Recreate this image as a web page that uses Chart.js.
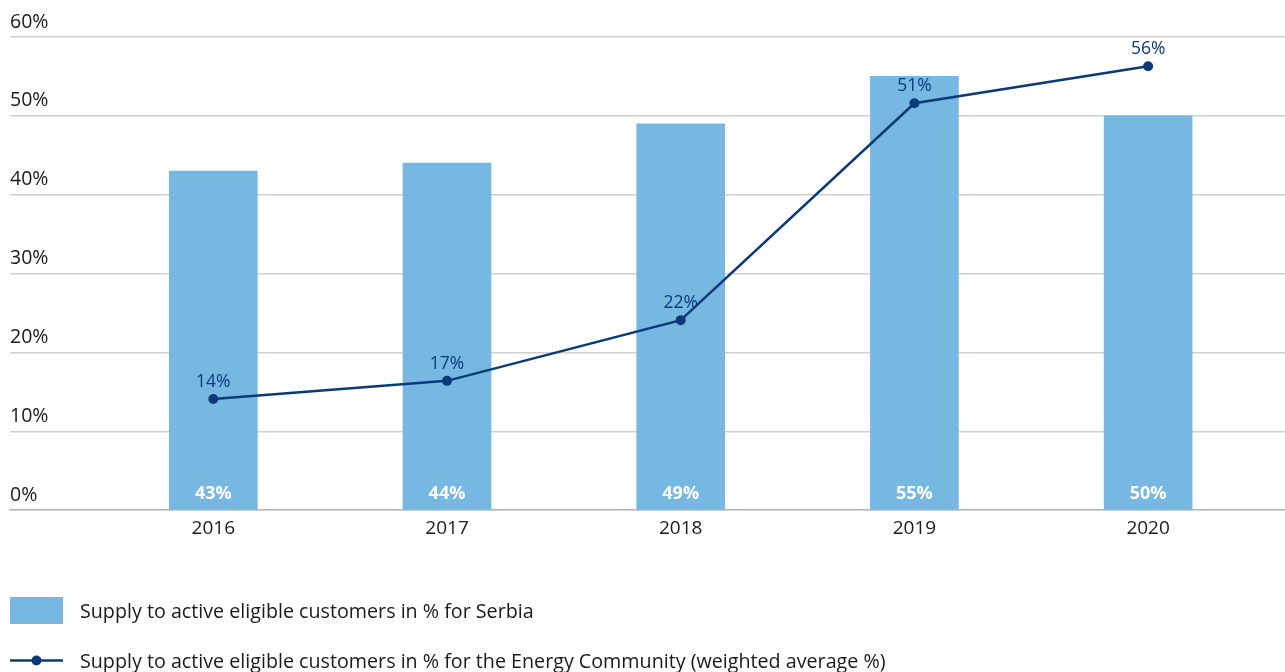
<!DOCTYPE html>
<html><head><meta charset="utf-8">
<script src="https://cdn.jsdelivr.net/npm/chart.js@4"></script>
<style>
html,body{margin:0;padding:0;background:#fff;overflow:hidden;}
#wrap{position:relative;width:1285px;height:672px;overflow:hidden;}
#legend{position:absolute;left:10px;top:596px;font-family:"Open Sans",sans-serif;font-size:19.7px;color:#1a1a1a;}
.li{display:flex;align-items:center;height:28px;margin-bottom:22px;white-space:nowrap;}
.sw{width:53px;height:27px;margin-right:17px;flex:none;}
</style></head>
<body>
<div id="wrap"><canvas id="c" width="1291" height="672"></canvas>
<div id="legend"></div></div>
<script>
const years = ['2016','2017','2018','2019','2020'];
const serbia = [43, 44, 49, 55, 50];
const energyCommunity = [14.1, 16.4, 24.1, 51.6, 56.3];
const energyCommunityLabels = ['14%','17%','22%','51%','56%'];
const serbiaLabels = ['43%','44%','49%','55%','50%'];
const yTicks = [0,10,20,30,40,50,60];
const seriesNames = ['Supply to active eligible customers in % for Serbia','Supply to active eligible customers in % for the Energy Community (weighted average %)'];

const BAR = '#76b8e1', LINE = '#0b3a79';
const FONT = '"Open Sans", sans-serif';

const labelPlugin = {
  id: 'valLabels',
  afterDatasetsDraw(chart) {
    const ctx = chart.ctx;
    ctx.save();
    ctx.textAlign = 'center';
    ctx.textBaseline = 'middle';
    const bars = chart.getDatasetMeta(1).data;
    ctx.fillStyle = '#ffffff';
    ctx.font = 'bold 18px ' + FONT;
    bars.forEach((b, i) => { ctx.fillText(serbiaLabels[i], b.x, b.base - 16); });
    const pts = chart.getDatasetMeta(0).data;
    ctx.fillStyle = LINE;
    ctx.font = '17.5px ' + FONT;
    pts.forEach((p, i) => { ctx.fillText(energyCommunityLabels[i], p.x, p.y - 17); });
    ctx.restore();
  }
};

new Chart(document.getElementById('c'), {
  type: 'bar',
  data: {
    datasets: [
      { type: 'line', label: seriesNames[1], data: energyCommunity.map((v, i) => ({x: i, y: v})),
        borderColor: LINE, backgroundColor: LINE, borderWidth: 2.5, pointRadius: 5, pointHoverRadius: 5,
        pointBackgroundColor: LINE, pointBorderWidth: 0, tension: 0, order: 0 },
      { type: 'bar', label: seriesNames[0], data: serbia.map((v, i) => ({x: i, y: v})),
        backgroundColor: BAR, barThickness: 88, order: 1 }
    ]
  },
  options: {
    responsive: false, animation: false, events: [],
    layout: { padding: { left: 10, right: 0, top: 37, bottom: 125 } },
    plugins: { legend: { display: false }, tooltip: { enabled: false } },
    scales: {
      x: { type: 'linear', min: -0.87, max: 4.59, offset: false,
        grid: { display: false, drawTicks: false },
        border: { display: true, color: '#b9b9b9', width: 1.5 },
        afterBuildTicks: (s) => { s.ticks = years.map((y, i) => ({value: i})); },
        ticks: { color: '#1a1a1a', font: { family: FONT, size: 19 }, padding: 7,
          callback: (v) => years[v] } },
      y: { min: 0, max: 60,
        afterBuildTicks: (s) => { s.ticks = yTicks.map(v => ({value: v})); },
        grid: { color: '#cfcfcf', lineWidth: 1.5, drawTicks: false },
        border: { display: false },
        ticks: { mirror: true, padding: 0, labelOffset: -15, color: '#1a1a1a',
          font: { family: FONT, size: 19.5 }, callback: (v) => v + '%' } }
    }
  },
  plugins: [labelPlugin]
});

// legend (HTML text)
const lg = document.getElementById('legend');
const it1 = document.createElement('div'); it1.className = 'li';
it1.innerHTML = '<div class="sw" style="background:' + BAR + '"></div><span></span>';
it1.querySelector('span').textContent = seriesNames[0];
const it2 = document.createElement('div'); it2.className = 'li';
it2.innerHTML = '<svg class="sw" width="53" height="27" viewBox="0 0 53 27"><line x1="0" y1="13.5" x2="53" y2="13.5" stroke="' + LINE + '" stroke-width="2.5"/><circle cx="26.5" cy="13.5" r="5" fill="' + LINE + '"/></svg><span></span>';
it2.querySelector('span').textContent = seriesNames[1];
lg.appendChild(it1); lg.appendChild(it2);
</script>
</body></html>
